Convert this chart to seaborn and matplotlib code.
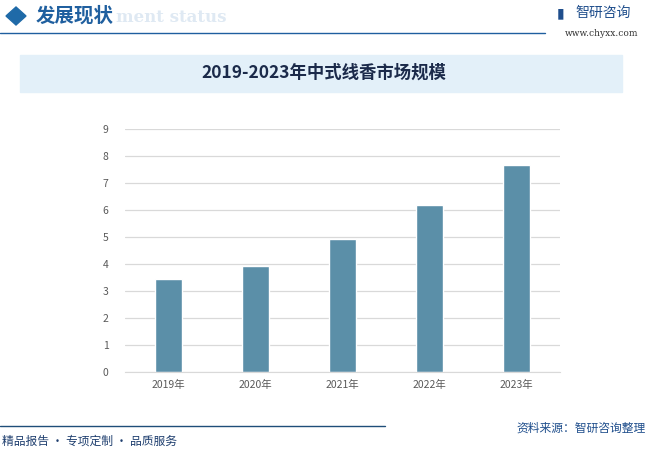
import seaborn as sns
import pandas as pd
import matplotlib.pyplot as plt
from matplotlib.patches import Rectangle, Polygon
from matplotlib.lines import Line2D

# data
years = ["2019年", "2020年", "2021年", "2022年", "2023年"]
market_size = [3.46, 3.94, 4.94, 6.20, 7.68]
y_ticks = list(range(0, 10))

title = "2019-2023年中式线香市场规模"

sns.set_style("white")
plt.rcParams['font.family'] = ['Noto Sans CJK SC', 'DejaVu Sans']

fig = plt.figure(figsize=(6.48, 4.49), dpi=100)
W, H = 648, 449


def fx(x):
    return x / W


def fy(y):
    return 1 - y / H


# header
fig.patches.append(Polygon([(fx(6), fy(16)), (fx(16), fy(7)), (fx(26), fy(16)), (fx(16), fy(25))],
                           closed=True, transform=fig.transFigure, color="#1f6aa8"))
fig.text(fx(116), fy(18), "ment status", fontsize=12, color="#dfe9f3", weight="bold",
         ha="left", va="center", family="DejaVu Serif")
fig.text(fx(36), fy(16), "发展现状", fontsize=14, color="#1f5f9f", weight="bold", va="center")
fig.lines.append(Line2D([0, fx(545)], [fy(33), fy(33)], transform=fig.transFigure,
                        color="#1f5f9f", lw=1.0))
fig.text(fx(557), fy(13), "▮", fontsize=10, color="#1f4e8c", va="center", family="DejaVu Sans")
fig.text(fx(575), fy(13), "智研咨询", fontsize=10, color="#1f4e8c", va="center")
fig.text(fx(638), fy(33), "www.chyxx.com", fontsize=6.5, color="#333333", va="center",
         ha="right", family="DejaVu Serif")

# title band
fig.patches.append(Rectangle((fx(20), fy(92)), fx(602), 37 / H, transform=fig.transFigure,
                             color="#e3f0f9", zorder=0))
fig.text(0.5, fy(73), title, fontsize=12.5, weight="bold", color="#1b2a4a",
         ha="center", va="center")

# chart
ax = fig.add_axes([fx(125), fy(372), fx(435), (372 - 129) / H])
df = pd.DataFrame({"year": years, "size": market_size})
sns.barplot(data=df, x="year", y="size", color="#5b8fa8", saturation=1, width=0.31, ax=ax)
ax.set_ylim(0, 9)
ax.set_yticks(y_ticks)
ax.yaxis.grid(True, color="#d9d9d9", lw=0.9)
ax.set_axisbelow(True)
sns.despine(ax=ax, left=True, top=True, right=True)
ax.spines["bottom"].set_color("#d9d9d9")
ax.set_xlabel("")
ax.set_ylabel("")
ax.tick_params(axis="both", length=0, labelsize=7.5, labelcolor="#595959")
ax.tick_params(axis="y", pad=12)
ax.tick_params(axis="x", pad=6)

# footer
fig.lines.append(Line2D([0, fx(385)], [fy(426), fy(426)], transform=fig.transFigure,
                        color="#1f4e79", lw=1.0))
fig.text(fx(2), fy(441), "精品报告 · 专项定制 · 品质服务", fontsize=8.5, color="#1f3f6f", va="center")
fig.text(fx(646), fy(428), "资料来源：智研咨询整理", fontsize=8.5, color="#1f4e8c",
         va="center", ha="right")

fig.savefig("out.png", dpi=100)
